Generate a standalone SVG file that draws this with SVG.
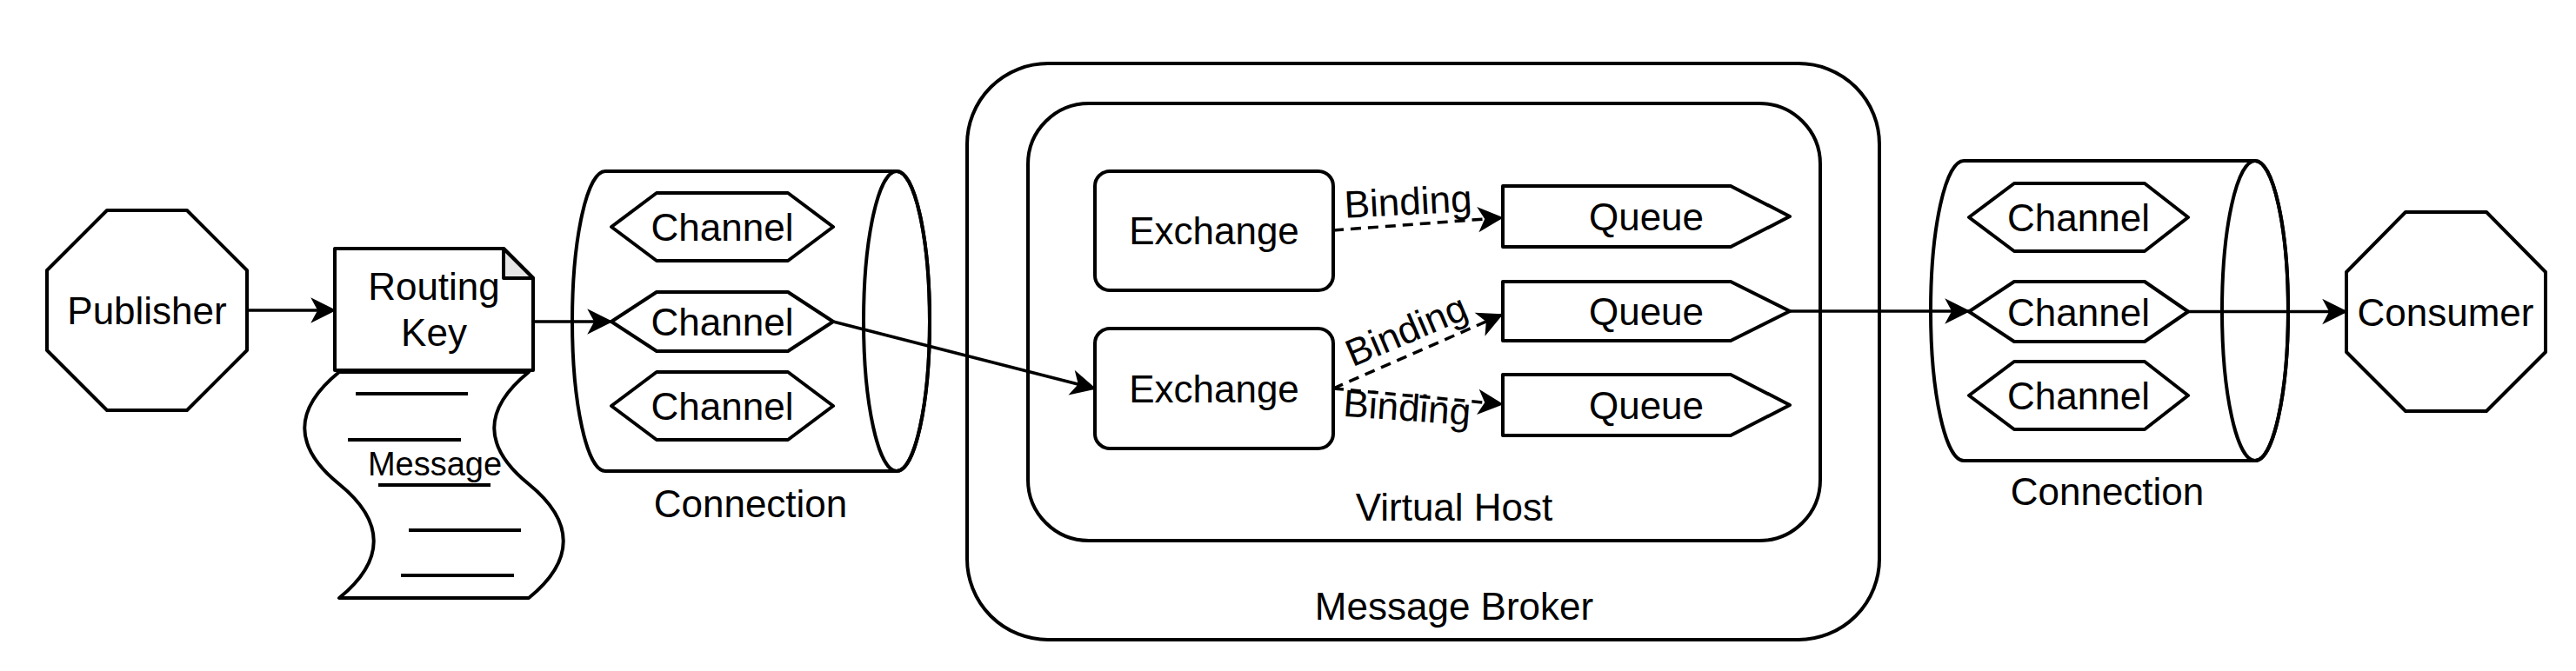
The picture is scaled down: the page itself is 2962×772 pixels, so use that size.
<svg xmlns="http://www.w3.org/2000/svg" width="2962" height="772" viewBox="0 0 2962 772">
<style>
.s{stroke:#000;stroke-width:4;fill:#fff;stroke-linejoin:round}
.n{stroke:#000;stroke-width:4;fill:none}
.t{font-family:"Liberation Sans",Arial,Helvetica,sans-serif;font-size:44px;fill:#000;text-anchor:middle}
.c{stroke:#000;stroke-width:3.5;fill:none;marker-end:url(#arr)}
.d{stroke-dasharray:12 8}
</style>
<defs>
<marker id="arr" markerUnits="userSpaceOnUse" markerWidth="30" markerHeight="30" viewBox="-28 -15 30 30" refX="0" refY="0" orient="auto">
<path d="M0,0 L-26,-13 L-19,0 L-26,13 Z" fill="#000" stroke="#000" stroke-width="1.5" stroke-linejoin="miter"/>
</marker>
</defs>
<rect width="2962" height="772" fill="#fff"/>

<g id="publisher">
<polygon class="s" points="123,242 215,242 284,311 284,403 215,472 123,472 54,403 54,311"/>
<text class="t" x="169" y="373">Publisher</text>
</g>

<g id="message">
<path class="s" d="M390,428 C337,471 337,514 390,557 C443,600 443,645 390,688 L608,688 C661,645 661,600 608,557 C555,514 555,471 608,428 Z"/>
<path class="n" d="M409,453 H538 M400,506 H530 M435,558 H564 M470,610 H599 M461,662 H591"/>
<text class="t" x="500" y="547" style="font-size:38px">Message</text>
</g>

<g id="routing-key">
<path class="s" d="M385,286 H579 L613,320 V426 H385 Z"/>
<path d="M579,286 V320 H613 Z" fill="#e6e6e6" stroke="#000" stroke-width="4" stroke-linejoin="round"/>
<text class="t" x="499" y="345">Routing</text>
<text class="t" x="499" y="398">Key</text>
</g>

<g id="connection-left">
<path class="s" d="M696,197 H1031 A38,172.5 0 0 1 1031,542 H696 A38,172.5 0 0 1 696,197 Z"/>
<ellipse class="n" cx="1031" cy="369.5" rx="38" ry="172.5"/>
<text class="t" x="863" y="595">Connection</text>
</g>
<g id="channel-l1">
<polygon class="s" points="703,261 755,222 906,222 958,261 906,300 755,300"/>
<text class="t" x="830.5" y="277">Channel</text>
</g>
<g id="channel-l2">
<polygon class="s" points="703,370 755,336 906,336 958,370 906,404 755,404"/>
<text class="t" x="830.5" y="386">Channel</text>
</g>
<g id="channel-l3">
<polygon class="s" points="703,467 755,428 906,428 958,467 906,506 755,506"/>
<text class="t" x="830.5" y="483">Channel</text>
</g>

<g id="message-broker">
<rect class="s" x="1112" y="73" width="1049" height="663" rx="93" ry="93"/>
<text class="t" x="1672" y="713">Message Broker</text>
</g>
<g id="virtual-host">
<rect class="s" x="1182" y="119" width="911" height="503" rx="70" ry="70"/>
<text class="t" x="1672" y="599">Virtual Host</text>
</g>
<g id="exchange-1">
<rect class="s" x="1259" y="197" width="274" height="137" rx="17" ry="17"/>
<text class="t" x="1396" y="281">Exchange</text>
</g>
<g id="exchange-2">
<rect class="s" x="1259" y="378" width="274" height="138" rx="17" ry="17"/>
<text class="t" x="1396" y="463">Exchange</text>
</g>
<g id="queue-1">
<polygon class="s" points="1728,214 1990,214 2058,249 1990,284 1728,284"/>
<text class="t" x="1893" y="265">Queue</text>
</g>
<g id="queue-2">
<polygon class="s" points="1728,324 1990,324 2058,358 1990,392 1728,392"/>
<text class="t" x="1893" y="374">Queue</text>
</g>
<g id="queue-3">
<polygon class="s" points="1728,431 1990,431 2058,466 1990,501 1728,501"/>
<text class="t" x="1893" y="482">Queue</text>
</g>

<g id="connection-right">
<path class="s" d="M2258,185 H2593 A38,172.5 0 0 1 2593,530 H2258 A38,172.5 0 0 1 2258,185 Z"/>
<ellipse class="n" cx="2593" cy="357.5" rx="38" ry="172.5"/>
<text class="t" x="2423" y="581">Connection</text>
</g>
<g id="channel-r1">
<polygon class="s" points="2264,250 2316,211 2466,211 2516,250 2466,289 2316,289"/>
<text class="t" x="2390" y="266">Channel</text>
</g>
<g id="channel-r2">
<polygon class="s" points="2264,358.5 2316,324 2466,324 2516,358.5 2466,393 2316,393"/>
<text class="t" x="2390" y="374.5">Channel</text>
</g>
<g id="channel-r3">
<polygon class="s" points="2264,455 2316,416 2466,416 2516,455 2466,494 2316,494"/>
<text class="t" x="2390" y="471">Channel</text>
</g>

<g id="consumer">
<polygon class="s" points="2766,244 2859,244 2927,313 2927,405 2859,473 2766,473 2698,405 2698,313"/>
<text class="t" x="2812" y="375">Consumer</text>
</g>

<g id="connectors">
<line class="c" x1="284" y1="357" x2="385" y2="357"/>
<line class="c" x1="613" y1="370" x2="703" y2="370"/>
<line class="c" x1="958" y1="370" x2="1259" y2="447"/>
<line class="c d" x1="1533" y1="265" x2="1727" y2="250.5"/>
<line class="c d" x1="1533" y1="447" x2="1727" y2="362"/>
<line class="c d" x1="1533" y1="447" x2="1727" y2="465"/>
<line class="c" x1="2058" y1="358" x2="2264" y2="358"/>
<line class="c" x1="2516" y1="358.5" x2="2698" y2="358.5"/>
<text class="t" transform="translate(1619,232) rotate(-3)" x="0" y="15">Binding</text>
<text class="t" transform="translate(1617,380) rotate(-23)" x="0" y="15">Binding</text>
<text class="t" transform="translate(1618,469) rotate(4)" x="0" y="15">Binding</text>
</g>
</svg>
